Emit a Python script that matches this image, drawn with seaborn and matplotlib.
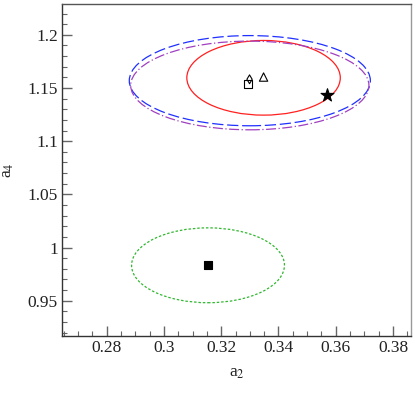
"""
Contornos de a2 x a4 com pontos de referência
"""

import numpy as np
import matplotlib
matplotlib.use("Agg")
import matplotlib.pyplot as plt
from matplotlib.patches import Ellipse
from matplotlib.ticker import MultipleLocator
import seaborn as sns

# elipses: centro (a2, a4) e semi-eixos
ell_names = ['vermelho', 'azul', 'roxo', 'verde']
ell_cx = [0.3348, 0.3300, 0.3300, 0.3154]
ell_cy = [1.1596, 1.1569, 1.1524, 0.9833]
ell_rx = [0.0268, 0.0421, 0.0416, 0.0267]
ell_ry = [0.0351, 0.0424, 0.0417, 0.0352]
ell_cores = ['#ff2020', '#2030ff', '#a040c0', '#30b830']
ell_estilos = ['-', (0, (9, 3)), (0, (8, 2, 1, 2)), (0, (2, 1.5))]

# pontos
pt_a2 = [0.3153, 0.3571, 0.3293, 0.3299, 0.3348]
pt_a4 = [0.9835, 1.1431, 1.1538, 1.1582, 1.1603]
pt_marker = ['s', '*', 's', 'd', '^']
pt_fill = ['black', 'black', 'none', 'none', 'none']
pt_size = [36, 95, 36, 20, 36]

sns.set_style("ticks")
plt.rcParams['font.family'] = ['Liberation Serif', 'DejaVu Serif']
plt.rcParams['mathtext.fontset'] = 'stix'

fig = plt.figure(figsize=(4.15, 3.96), dpi=100)
ax = fig.add_axes([0.1494, 0.1515, 0.8410, 0.8384])

for i in range(len(ell_names)):
    e = Ellipse((ell_cx[i], ell_cy[i]), 2 * ell_rx[i], 2 * ell_ry[i],
                fill=False, edgecolor=ell_cores[i], linestyle=ell_estilos[i], lw=0.9)
    ax.add_patch(e)

for i in range(len(pt_a2)):
    sns.scatterplot(x=[pt_a2[i]], y=[pt_a4[i]], marker=pt_marker[i], s=pt_size[i],
                    facecolor=pt_fill[i], edgecolor='black', linewidth=0.8, ax=ax, zorder=5)

ax.set_xlim(0.2644, 0.3863)
ax.set_ylim(0.9168, 1.229)
ax.xaxis.set_minor_locator(MultipleLocator(0.005))
ax.yaxis.set_minor_locator(MultipleLocator(0.01))
ax.set_xticks([0.28, 0.30, 0.32, 0.34, 0.36, 0.38])
ax.set_xticklabels(['0.28', '0.3', '0.32', '0.34', '0.36', '0.38'])
ax.set_yticks([0.95, 1.0, 1.05, 1.1, 1.15, 1.2])
ax.set_yticklabels(['0.95', '1', '1.05', '1.1', '1.15', '1.2'])

ax.tick_params(which='major', direction='in', length=7, width=1.0, color='#666666',
               labelsize=12.5, pad=3, top=False, right=False, labelcolor='#222222')
ax.tick_params(which='minor', direction='in', length=3.5, width=0.8, color='#666666',
               top=False, right=False)
for s in ax.spines.values():
    s.set_color('#555555')
    s.set_linewidth(1.0)
ax.spines['left'].set_color('#333333')
ax.spines['bottom'].set_color('#333333')
ax.spines['right'].set_color('#999999')

ax.set_xlabel('a$_2$', fontsize=12.5, labelpad=6, color='#222222')
ax.set_ylabel('a$_4$', fontsize=12.5, labelpad=8, color='#222222')

fig.savefig('out.png', dpi=100)
